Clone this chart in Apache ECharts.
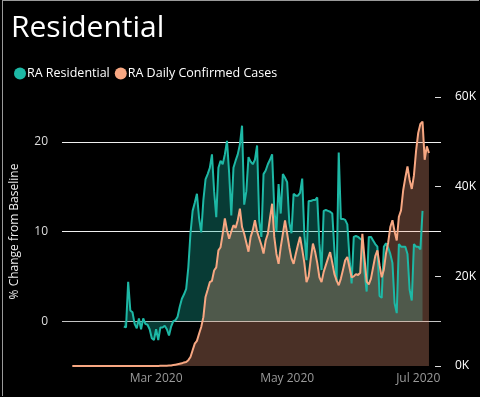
<!DOCTYPE html>
<html><head><meta charset="utf-8">
<script src="https://cdn.jsdelivr.net/npm/echarts@6/dist/echarts.min.js"></script>
<style>html,body{margin:0;padding:0;background:#000;}#c{width:480px;height:397px;}
#f{position:absolute;left:2px;top:0;width:476px;height:395px;border-left:1px solid #9a9a9a;border-top:1px solid #9a9a9a;pointer-events:none;}</style>
</head><body><div id="c"></div><div id="f"></div>
<script>
// Day-of-year numbering: Jan 1 2020 = 0
const residentialStartDay = 45; // Feb 15, 2020
const residential = [
  -0.6,-0.7,4.4,1.2,1.0,-0.3,-0.8,
  0.3,-0.9,0.3,-0.3,-0.4,-0.9,-1.9,
  -2.1,-0.9,-2.1,-0.7,-0.7,-0.5,-0.9,
  -1.6,-0.6,0.0,0.1,0.5,1.6,2.5,
  3.0,3.6,6.0,9.8,12.3,13.2,14.2,
  11.5,9.9,13.5,15.8,16.4,17.1,18.6,
  14.5,11.6,17.1,17.9,17.5,18.6,20.1,
  16.5,11.8,17.1,17.9,18.6,19.7,21.8,
  13.0,14.5,18.3,17.8,17.5,18.0,19.6,
  11.2,9.4,16.4,16.8,17.5,18.0,18.6,
  12.5,10.0,15.3,12.0,16.4,16.0,15.5,
  11.0,9.8,14.2,14.0,14.0,14.3,15.9,
  9.7,6.8,13.4,13.4,13.5,13.5,13.8,
  8.7,5.7,12.3,12.4,12.3,12.2,12.0,
  7.9,4.4,18.8,11.4,11.4,11.3,10.8,
  7.1,4.2,9.4,9.5,9.4,9.2,9.0,
  5.5,3.3,9.4,9.4,9.0,8.6,8.3,
  2.8,2.6,8.3,8.7,8.2,7.5,6.5,
  2.0,0.9,8.6,8.3,8.3,8.3,7.5,
  3.5,2.3,8.6,8.3,8.3,8.0,12.3
];
const casesStartDay = 21; // Jan 22, 2020
const casesK = [
  0,0,0,0,0,0,0,0,0,0,
  0,0,0,0,0,0,0,0,0,0,
  0,0,0,0,0,0,0,0,0,0,
  0,0,0,0,0,0,0,0,0,
  0.01,0.02,0.03,0.03,0.05,0.07,0.1,0.1,
  0.2,0.3,0.4,0.5,0.6,0.8,0.9,1.3,2.0,3.5,
  5.0,5.6,7.2,8.7,10.9,15.4,17.0,18.7,19.0,21.3,
  22.0,25.8,26.5,29.5,32.9,30.3,28.4,30.0,31.4,30.8,
  32.5,35.1,31.0,29.5,27.5,25.5,28.8,30.3,32.5,30.0,
  28.5,27.0,25.1,28.0,29.5,33.0,36.2,28.8,25.0,22.8,
  26.5,29.5,32.5,29.5,26.5,24.0,22.8,25.0,27.0,28.8,
  26.0,23.0,18.7,20.0,24.0,27.3,25.5,23.0,19.8,18.7,
  21.0,22.5,24.0,25.4,23.0,20.5,19.1,18.0,19.5,21.5,
  23.6,24.3,22.0,19.8,20.0,20.5,20.3,20.8,29.5,24.0,
  18.8,18.2,19.5,22.0,24.5,25.8,22.5,19.8,21.5,25.1,
  27.5,31.0,32.5,30.0,28.0,33.3,34.7,39.2,42.0,44.5,
  41.5,39.5,42.5,48.0,52.0,54.0,54.5,46.0,49.0,47.5
];
const xTickDays = [60, 121, 182];
const xTickLabels = ['Mar 2020', 'May 2020', 'Jul 2020'];
const leftTickLabels = [0, 10, 20];

const resData = residential.map((v, i) => [residentialStartDay + i, v]);
const caseData = casesK.map((v, i) => [casesStartDay + i, v]);

const teal = '#1db8a5';
const peach = '#f7a782';
const font = 'Open Sans';

const chart = echarts.init(document.getElementById('c'));
chart.setOption({
  backgroundColor: '#000',
  animation: false,
  textStyle: { fontFamily: font },
  title: {
    text: 'Residential', left: 6, top: 8,
    textStyle: { color: '#fff', fontSize: 30, fontWeight: 'normal', fontFamily: font }
  },
  legend: {
    data: ['RA Residential', 'RA Daily Confirmed Cases'],
    left: 9, top: 62, icon: 'circle', itemWidth: 12, itemHeight: 12, itemGap: 5,
    textStyle: { color: '#fff', fontSize: 12.5, fontFamily: font, padding: [0, 0, 0, -4] }
  },
  grid: { left: 62, right: 39, top: 97, bottom: 31 },
  xAxis: {
    type: 'value', min: 16.2, max: 192.6,
    axisLine: { show: false }, axisTick: { show: false }, splitLine: { show: false },
    axisLabel: {
      customValues: xTickDays, color: '#9a9a9a', fontSize: 12, margin: 7,
      formatter: v => { const k = xTickDays.indexOf(Math.round(v)); return k >= 0 ? xTickLabels[k] : ''; }
    }
  },
  yAxis: [
    {
      type: 'value', min: -5, max: 25, interval: 5,
      name: '% Change from Baseline', nameLocation: 'middle', nameGap: 41,
      nameTextStyle: { color: '#eee', fontSize: 12, fontFamily: font },
      axisLine: { show: false }, axisTick: { show: false },
      axisLabel: { color: '#ddd', fontSize: 12, margin: 14,
        formatter: v => leftTickLabels.indexOf(v) >= 0 ? String(v) : '' },
      splitLine: { show: true, lineStyle: { width: 1,
        color: ['rgba(0,0,0,0)', '#c4c4c4', 'rgba(0,0,0,0)', '#f0f0f0', 'rgba(0,0,0,0)', '#f0f0f0', 'rgba(0,0,0,0)'] } }
    },
    {
      type: 'value', min: 0, max: 60, interval: 20, position: 'right',
      axisLine: { show: false },
      axisTick: { show: true, inside: true, length: 6, lineStyle: { color: '#ddd', width: 1 } },
      axisLabel: { color: '#fff', fontSize: 12, margin: 14, formatter: '{value}K' },
      splitLine: { show: false }
    }
  ],
  series: [
    { name: 'RA Residential', type: 'line', yAxisIndex: 0, data: resData, showSymbol: false,
      itemStyle: { color: teal }, lineStyle: { width: 0 },
      areaStyle: { color: 'rgba(24,180,160,0.47)' } },
    { name: 'RA Daily Confirmed Cases', type: 'line', yAxisIndex: 1, data: caseData, showSymbol: false,
      itemStyle: { color: peach }, lineStyle: { width: 0 },
      areaStyle: { color: 'rgba(250,164,129,0.42)' } },
    { name: 'RA Residential', type: 'line', yAxisIndex: 0, data: resData, showSymbol: false,
      itemStyle: { color: teal }, lineStyle: { width: 2, color: teal } },
    { name: 'RA Daily Confirmed Cases', type: 'line', yAxisIndex: 1, data: caseData, showSymbol: false,
      itemStyle: { color: peach }, lineStyle: { width: 2, color: peach } }
  ]
});
</script></body></html>
